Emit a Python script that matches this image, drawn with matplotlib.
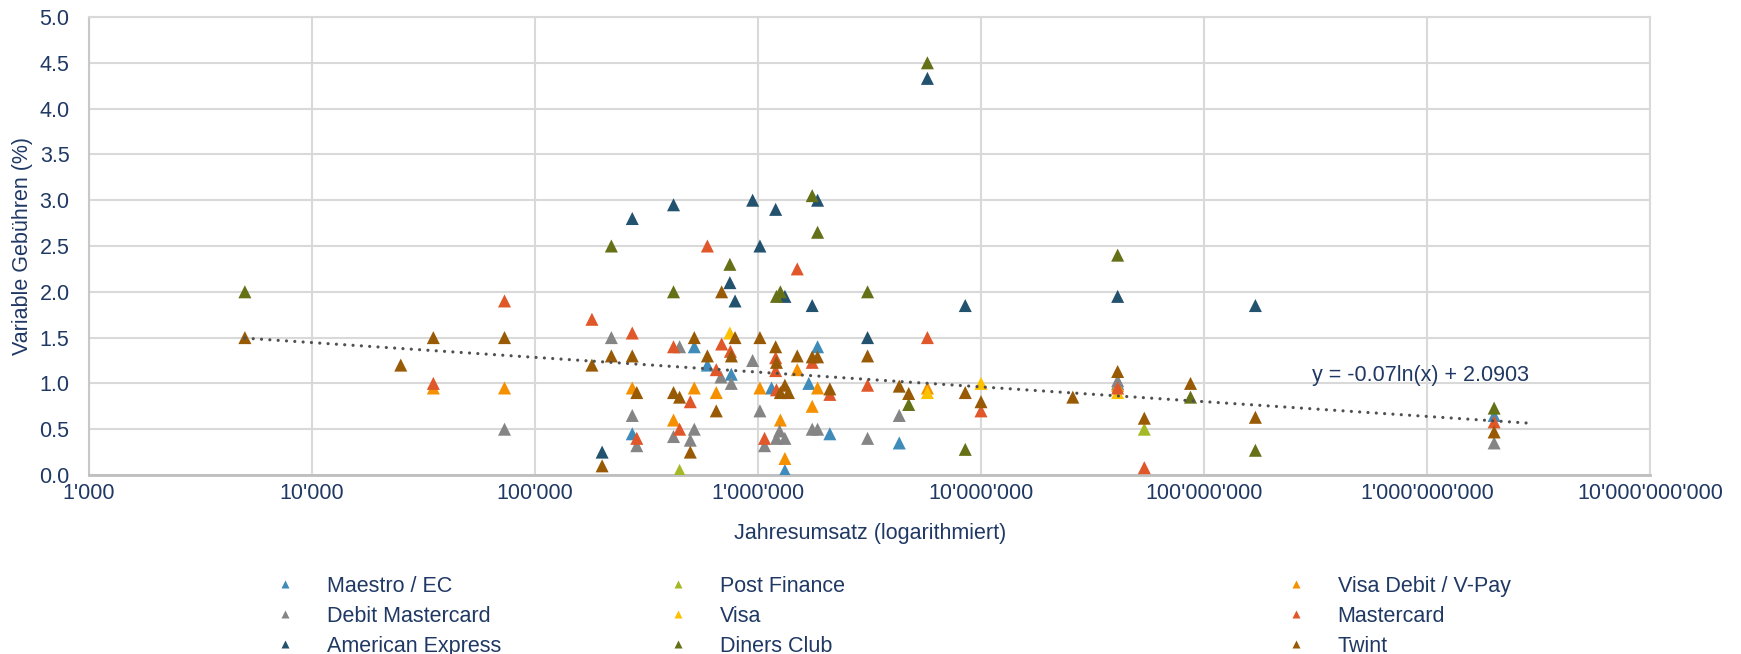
import numpy as np
import matplotlib
matplotlib.use("Agg")
import matplotlib.pyplot as plt
from matplotlib.ticker import FuncFormatter, FixedLocator
from matplotlib.lines import Line2D

plt.rcParams['font.family'] = ['Liberation Sans', 'DejaVu Sans']

TEXT = '#1F3864'
GRID = '#D9D9D9'
FS = 15.5

series_names = ['Maestro / EC', 'Post Finance', 'Visa Debit / V-Pay', 'Debit Mastercard',
                'Visa', 'Mastercard', 'American Express', 'Diners Club', 'Twint']
series_colors = ['#3F8CBB', '#A5B826', '#F59100', '#858585', '#FDC100',
                 '#E0572A', '#23526F', '#667016', '#985A05']

maestro_x = [273e3, 518e3, 593e3, 759e3, 1.15e6, 1.32e6, 1.69e6, 1.85e6, 2.1e6, 4.3e6, 41e6, 2.0e9]
maestro_y = [0.45, 1.40, 1.20, 1.10, 0.95, 0.05, 1.00, 1.40, 0.45, 0.35, 1.00, 0.65]

postfinance_x = [445e3, 54e6]
postfinance_y = [0.05, 0.50]

visadebit_x = [35e3, 73e3, 273e3, 418e3, 518e3, 650e3, 1.02e6, 1.26e6, 1.32e6, 1.5e6, 1.75e6, 1.85e6, 5.75e6, 41e6]
visadebit_y = [0.95, 0.95, 0.95, 0.60, 0.95, 0.90, 0.95, 0.60, 0.18, 1.15, 0.75, 0.95, 0.95, 0.98]

debitmc_x = [73e3, 220e3, 273e3, 286e3, 418e3, 445e3, 497e3, 518e3, 682e3, 759e3, 946e3, 1.02e6,
             1.07e6, 1.25e6, 1.21e6, 1.32e6, 1.75e6, 1.85e6, 3.1e6, 4.3e6, 41e6, 2.0e9]
debitmc_y = [0.50, 1.50, 0.65, 0.32, 0.42, 1.40, 0.38, 0.50, 1.07, 1.00, 1.25, 0.70,
             0.32, 0.48, 0.40, 0.40, 0.50, 0.50, 0.40, 0.65, 1.03, 0.35]

visa_x = [748e3, 5.75e6, 10e6, 41e6]
visa_y = [1.55, 0.90, 1.00, 0.90]

mastercard_x = [35e3, 73e3, 180e3, 273e3, 286e3, 418e3, 445e3, 497e3, 593e3, 650e3, 687e3, 752e3,
                1.07e6, 1.2e6, 1.2e6, 1.21e6, 1.5e6, 1.75e6, 2.1e6, 3.1e6, 5.75e6, 10e6, 41e6, 54e6, 2.0e9]
mastercard_y = [1.00, 1.90, 1.70, 1.55, 0.40, 1.40, 0.50, 0.80, 2.50, 1.15, 1.43, 1.35,
                0.40, 1.28, 1.14, 0.93, 2.25, 1.23, 0.88, 0.98, 1.50, 0.70, 0.95, 0.08, 0.58]

amex_x = [200e3, 273e3, 418e3, 748e3, 789e3, 946e3, 1.02e6, 1.2e6, 1.32e6, 1.75e6, 1.85e6,
          3.1e6, 5.75e6, 8.5e6, 41e6, 170e6]
amex_y = [0.25, 2.80, 2.95, 2.10, 1.90, 3.00, 2.50, 2.90, 1.95, 1.85, 3.00,
          1.50, 4.33, 1.85, 1.95, 1.85]

diners_x = [5e3, 220e3, 418e3, 748e3, 1.21e6, 1.26e6, 1.75e6, 1.85e6, 3.1e6, 4.74e6, 5.75e6,
            8.5e6, 41e6, 87e6, 170e6, 2.0e9]
diners_y = [2.00, 2.50, 2.00, 2.30, 1.95, 2.00, 3.05, 2.65, 2.00, 0.77, 4.50,
            0.28, 2.40, 0.85, 0.27, 0.73]

twint_x = [5e3, 25e3, 35e3, 73e3, 180e3, 200e3, 220e3, 273e3, 286e3, 418e3, 445e3, 497e3, 518e3,
           593e3, 650e3, 687e3, 760e3, 789e3, 1.02e6, 1.2e6, 1.21e6, 1.32e6, 1.26e6, 1.37e6, 1.5e6,
           1.75e6, 1.85e6, 2.1e6, 3.1e6, 4.3e6, 4.74e6, 8.5e6, 10e6, 25.8e6, 41e6, 54e6, 87e6, 170e6, 2.0e9]
twint_y = [1.50, 1.20, 1.50, 1.50, 1.20, 0.10, 1.30, 1.30, 0.90, 0.90, 0.85, 0.25, 1.50,
           1.30, 0.70, 2.00, 1.30, 1.50, 1.50, 1.40, 1.23, 0.98, 0.90, 0.90, 1.30,
           1.29, 1.29, 0.94, 1.30, 0.97, 0.89, 0.90, 0.80, 0.85, 1.13, 0.62, 1.00, 0.63, 0.47]

series_x = [maestro_x, postfinance_x, visadebit_x, debitmc_x, visa_x, mastercard_x, amex_x, diners_x, twint_x]
series_y = [maestro_y, postfinance_y, visadebit_y, debitmc_y, visa_y, mastercard_y, amex_y, diners_y, twint_y]

trend_slope = -0.07
trend_intercept = 2.0903
trend_x_start = 5e3
trend_x_end = 3.0e9
trend_label = 'y = -0.07ln(x) + 2.0903'

x_ticks = [1e3, 1e4, 1e5, 1e6, 1e7, 1e8, 1e9, 1e10]
y_ticks = [0.0, 0.5, 1.0, 1.5, 2.0, 2.5, 3.0, 3.5, 4.0, 4.5, 5.0]

W, H = 1741, 654
fig = plt.figure(figsize=(W / 100, H / 100), dpi=100)
ax = fig.add_axes([89 / W, 1 - 475 / H, (1650 - 89) / W, (475 - 17) / H])

handles = []
for name, col, xs, ys in zip(series_names, series_colors, series_x, series_y):
    ax.scatter(xs, ys, marker='^', s=88, color=col, edgecolors='none', zorder=3)
    handles.append(Line2D([], [], marker='^', linestyle='none', markersize=6.2,
                          markerfacecolor=col, markeredgecolor='none', label=name))

tx = np.geomspace(trend_x_start, trend_x_end, 200)
ty = trend_slope * np.log(tx) + trend_intercept
ax.plot(tx, ty, color='#505050', linewidth=2.3, linestyle=(0, (0.01, 2.6)),
        dash_capstyle='round', zorder=4)
ax.text(3.06e8, 1.09, trend_label, color=TEXT, fontsize=FS, va='center', ha='left', zorder=5)

ax.set_xscale('log')
ax.set_xlim(1e3, 1e10)
ax.set_ylim(0, 5)
ax.xaxis.set_major_locator(FixedLocator(x_ticks))
ax.xaxis.set_minor_locator(FixedLocator([]))
ax.xaxis.set_major_formatter(FuncFormatter(lambda v, p: format(int(round(v)), ',').replace(',', "'")))
ax.yaxis.set_major_locator(FixedLocator(y_ticks))
ax.yaxis.set_major_formatter(FuncFormatter(lambda v, p: f'{v:.1f}'))
ax.grid(True, which='major', color=GRID, linewidth=1.5, zorder=0)
ax.set_axisbelow(True)
ax.tick_params(axis='both', length=0, labelsize=FS, labelcolor=TEXT)
ax.tick_params(axis='x', pad=5.5)
ax.tick_params(axis='y', pad=14)
for s in ['top', 'right']:
    ax.spines[s].set_color(GRID)
    ax.spines[s].set_linewidth(1.5)
ax.spines['left'].set_color('#C8C8C8')
ax.spines['left'].set_linewidth(1.5)
ax.spines['bottom'].set_color('#BFBFBF')
ax.spines['bottom'].set_linewidth(2.0)

fig.text(870 / W, 1 - 534 / H, 'Jahresumsatz (logarithmiert)', color=TEXT, fontsize=FS,
         ha='center', va='center')
fig.text(23 / W, 1 - 246 / H, 'Variable Gebühren (%)', color=TEXT, fontsize=FS,
         ha='center', va='center', rotation=90)

order = [[0, 3, 6], [1, 4, 7], [2, 5, 8]]
col_x = [274, 667, 1285]
for cx, idx in zip(col_x, order):
    fig.legend(handles=[handles[i] for i in idx], loc='upper left',
               bbox_to_anchor=(cx / W, 1 - 576 / H), frameon=False, fontsize=FS,
               handlelength=1.0, handletextpad=1.45, labelspacing=0.41,
               borderpad=0, borderaxespad=0, labelcolor=TEXT)

fig.savefig('out.png', dpi=100)
